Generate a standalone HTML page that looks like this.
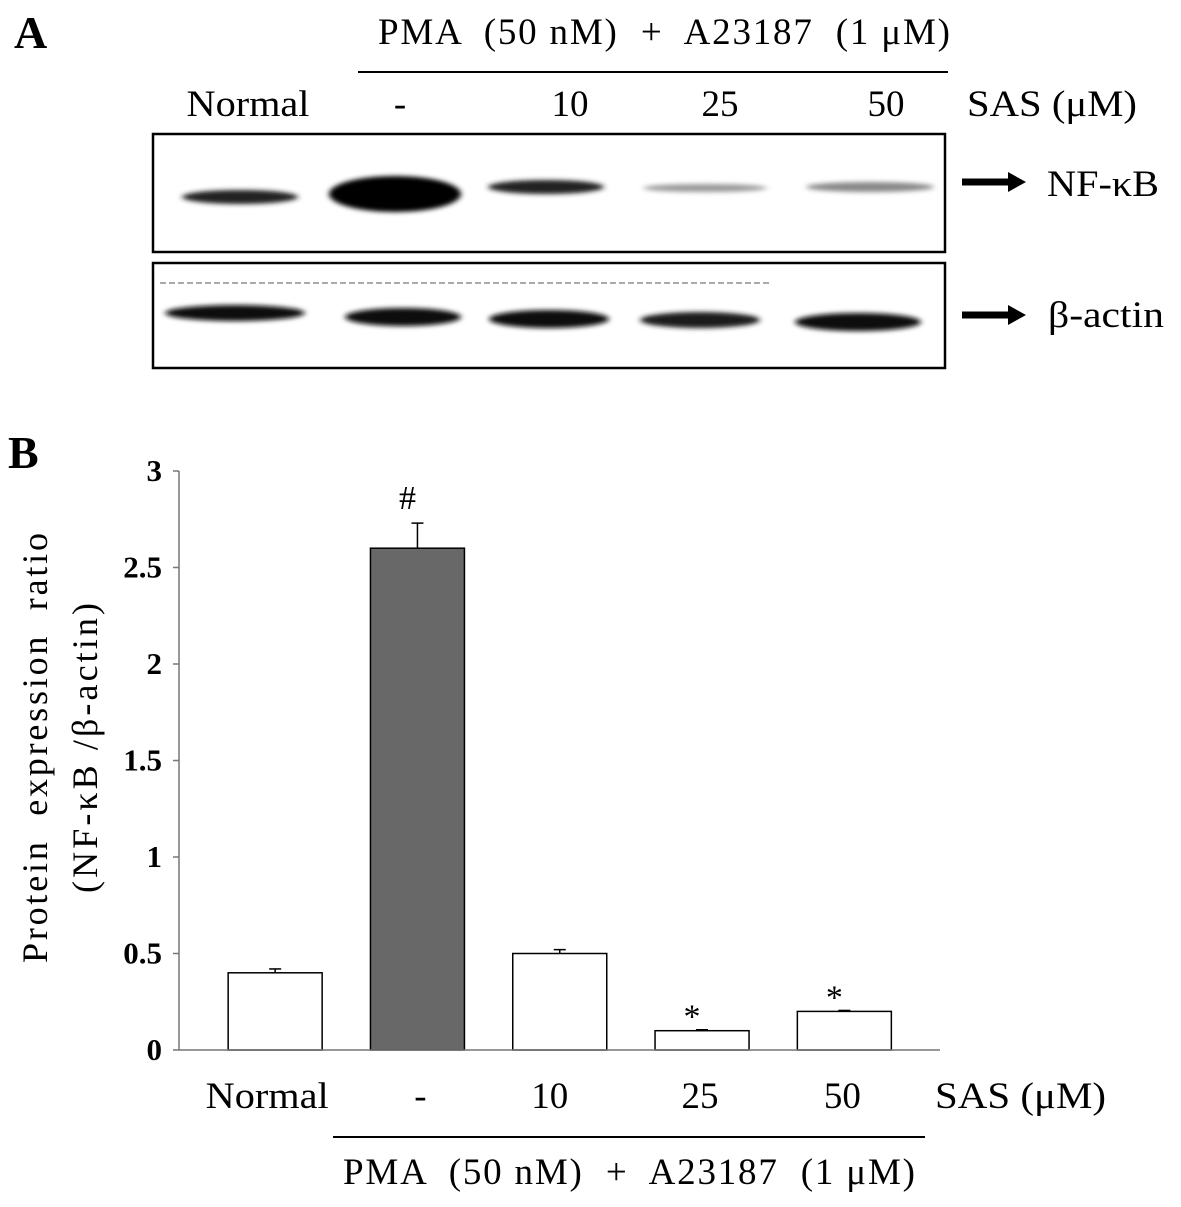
<!DOCTYPE html>
<html><head><meta charset="utf-8"><style>
html,body{margin:0;padding:0;background:#fff;}
svg{display:block;font-family:"Liberation Serif",serif;}
</style></head><body>
<svg id="fig" width="1181" height="1207" viewBox="0 0 1181 1207">
<defs>
<filter id="blur" x="-20%" y="-100%" width="140%" height="300%"><feGaussianBlur stdDeviation="3 2.5"/></filter>
</defs>
<!-- Panel A -->
<text x="14" y="48" font-size="46" font-weight="bold">A</text>
<text x="378" y="44" font-size="37" textLength="572" lengthAdjust="spacing" xml:space="preserve">PMA  (50 nM)  +  A23187  (1 μM)</text>
<line x1="358" y1="72" x2="948" y2="72" stroke="#000" stroke-width="2"/>
<g font-size="37" text-anchor="middle">
<text x="248" y="116" textLength="123" lengthAdjust="spacingAndGlyphs">Normal</text><text x="400" y="116">-</text><text x="570" y="116">10</text><text x="720" y="116">25</text><text x="886" y="116">50</text>
</g>
<text x="967" y="116" font-size="37" textLength="170" lengthAdjust="spacingAndGlyphs">SAS (μM)</text>
<rect x="153" y="134" width="792" height="118" fill="#fff" stroke="#000" stroke-width="2.5"/>
<rect x="153" y="263" width="792" height="105" fill="#fff" stroke="#000" stroke-width="2.5"/>
<g filter="url(#blur)">
<ellipse cx="240" cy="197" rx="58" ry="7" fill="#222"/>
<ellipse cx="395" cy="194" rx="66" ry="18" fill="#000"/>
<ellipse cx="546" cy="187" rx="58" ry="7" fill="#222"/>
<ellipse cx="705" cy="188" rx="62" ry="4" fill="#999"/>
<ellipse cx="870" cy="187" rx="64" ry="5" fill="#888"/>
</g>
<line x1="160" y1="283" x2="770" y2="283" stroke="#aaa" stroke-width="2" stroke-dasharray="6 3"/>
<g filter="url(#blur)">
<ellipse cx="235" cy="313" rx="70" ry="8" fill="#111"/>
<ellipse cx="403" cy="317" rx="58" ry="9" fill="#111"/>
<ellipse cx="549" cy="319" rx="60" ry="9" fill="#111"/>
<ellipse cx="700" cy="320" rx="60" ry="8" fill="#1a1a1a"/>
<ellipse cx="858" cy="322" rx="63" ry="9" fill="#111"/>
</g>
<line x1="962" y1="182" x2="1010" y2="182" stroke="#000" stroke-width="7"/>
<polygon points="1008,172 1026,182 1008,192" fill="#000"/>
<text x="1047" y="196" font-size="37" textLength="112" lengthAdjust="spacingAndGlyphs">NF-κB</text>
<line x1="962" y1="315" x2="1010" y2="315" stroke="#000" stroke-width="7"/>
<polygon points="1008,305 1026,315 1008,325" fill="#000"/>
<text x="1048" y="327" font-size="37" textLength="116" lengthAdjust="spacingAndGlyphs">β-actin</text>
<!-- Panel B -->
<text x="8" y="468" font-size="46" font-weight="bold">B</text>
<g id="chart"></g>
<text transform="translate(47,748) rotate(-90)" font-size="36" text-anchor="middle" textLength="430" lengthAdjust="spacing" xml:space="preserve">Protein  expression  ratio</text>
<text transform="translate(97,748) rotate(-90)" font-size="36" text-anchor="middle" textLength="290" lengthAdjust="spacing">(NF-κB /β-actin)</text>
<text x="935" y="1108" font-size="37" textLength="171" lengthAdjust="spacingAndGlyphs">SAS (μM)</text>
<line x1="333" y1="1137" x2="925" y2="1137" stroke="#000" stroke-width="2"/>
<text x="343" y="1184" font-size="37" textLength="572" lengthAdjust="spacing" xml:space="preserve">PMA  (50 nM)  +  A23187  (1 μM)</text>
</svg>
<script>
const categories = ["Normal", "-", "10", "25", "50"];
const values = [0.4, 2.6, 0.5, 0.1, 0.2];
const errors = [0.02, 0.13, 0.02, 0.005, 0.005];
const marks = ["", "#", "", "*", "*"];
const yTicks = [0, 0.5, 1, 1.5, 2, 2.5, 3];
const yTickLabels = ["0", "0.5", "1", "1.5", "2", "2.5", "3"];

const NS = "http://www.w3.org/2000/svg";
const g = document.getElementById("chart");
const X0 = 179, XEND = 940, Y0 = 1050, YTOP = 471, YMAX = 3;
const bandStart = 204, band = 142.3, barW = 94;
const y = v => Y0 - (v / YMAX) * (Y0 - YTOP);
const xc = i => bandStart + band * i + band / 2;
function mk(tag, attrs) { const e = document.createElementNS(NS, tag); for (const k in attrs) e.setAttribute(k, attrs[k]); g.appendChild(e); return e; }

const ya = mk("line", {x1: X0, y1: YTOP, x2: X0, y2: Y0, stroke: "#777", "stroke-width": 1.5});


yTicks.forEach((t, i) => {
  const tk = mk("line", {x1: X0 - 6, y1: y(t), x2: X0, y2: y(t), stroke: "#777", "stroke-width": 1.5});
  
  
  const tl = mk("text", {x: 162, y: y(t) + 10, "font-size": 31, "font-weight": "bold", "text-anchor": "end"});
  tl.textContent = yTickLabels[i];
  
  
});
categories.forEach((c, i) => {
  const cx = xc(i);
  const eTop = y(values[i] + errors[i]);
  const el = mk("line", {x1: cx, y1: eTop, x2: cx, y2: y(values[i]), stroke: "#000", "stroke-width": 1.5});
  
  
  const ec = mk("line", {x1: cx - 6, y1: eTop, x2: cx + 6, y2: eTop, stroke: "#000", "stroke-width": 1.5});
  
  
  const b = mk("rect", {x: cx - barW / 2, y: y(values[i]), width: barW, height: Y0 - y(values[i]), fill: i === 1 ? "#686868" : "#fff", stroke: "#000", "stroke-width": 1.5});
  
  
  if (marks[i]) {
    const m = mk("text", {x: cx - 10, y: eTop - (marks[i] === "*" ? 2 : 14), "font-size": 34, "text-anchor": "middle"});
    m.textContent = marks[i];
    
    
  }
  const lb = mk("text", {x: cx - 8 + (i === 0 ? 0 : i === 1 ? 11 : i === 2 ? -2 : 6), y: 1108, "font-size": 37, "text-anchor": "middle"});
  lb.textContent = c;
  if (i === 0) { lb.setAttribute("textLength", 123); lb.setAttribute("lengthAdjust", "spacingAndGlyphs"); }
  
  
});
const xa = mk("line", {x1: X0, y1: Y0, x2: XEND, y2: Y0, stroke: "#777", "stroke-width": 1.5});


</script>
</body></html>
